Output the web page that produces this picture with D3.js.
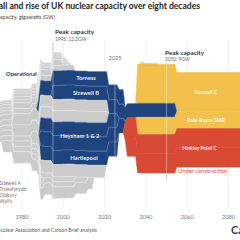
<!DOCTYPE html>
<html>
<head>
<meta charset="utf-8">
<script src="https://d3js.org/d3.v7.min.js"></script>
<style>
body{margin:0;background:#fff}
svg{display:block;font-family:Lato,"Open Sans",sans-serif}
</style>
</head>
<body>
<svg width="240" height="240"></svg>
<script>
// stations, listed top to bottom of the stream
const stationNames = ["Calder Hall","Chapelcross","Berkeley","Bradwell","Hunterston A","Hinkley Point A","Dungeness A",
  "Torness","Sizewell C","Sizewell B","Hinkley Point B","Hunterston B","Rolls-Royce SMR","Heysham 1","Heysham 2",
  "Hartlepool","Hinkley Point C 1","Hinkley Point C 2","Dungeness B","Sizewell A","Trawsfynydd","Oldbury","Wylfa"];
const stationStatus = ["retired","retired","retired","retired","retired","retired","retired",
  "operational","planned","operational","retired","retired","planned","operational","operational",
  "operational","construction","construction","retired","retired","retired","retired","retired"];
const startYears = [1956,1959,1962,1962,1964,1965,1965, 1988,2036,1995,1976,1976,2036,1989,1989, 1989,2030,2031,1985,1966,1965,1967,1971];
const endYears   = [2003,2004,1989,2002,1990,2000,2006, 2030,2100,2055,2022,2022,2100,2027,2030, 2027,2100,2100,2021,2006,1991,2012,2015];
const capacityGW = [0.19,0.19,0.28,0.24,0.30,0.47,0.45, 1.25,3.3,1.2,0.95,0.95,1.45,1.15,1.25, 1.2,1.63,1.63,1.05,0.42,0.47,0.43,0.98];

const tickYears = [1980, 2000, 2020, 2040, 2060, 2080];
const bandLabels = [["Torness",[7],2011],["Sizewell B",[9],2011],["Heysham 1 & 2",[13,14],2008],["Hartlepool",[15],2010],
  ["Sizewell C",[8],2069],["Rolls-Royce SMR",[12],2069],["Hinkley Point C",[16,17],2066]];
const retiredList = ["Sizewell A","Trawsfynydd","Oldbury","Wylfa"];

const colors = {retired:"#cbcbcb", operational:"#1e437d", planned:"#f3c04c", construction:"#d84a33"};
const strokes = {retired:"#ececec", operational:"#5d80b6", planned:"#f3c04c", construction:"#d84a33"};

const svg = d3.select("svg");
const x = d3.scaleLinear().domain([1980, 2080]).range([22, 228.5]);

const years = d3.range(1950, 2096);
const table = years.map(yr => {
  const row = {year: yr};
  stationNames.forEach((n, i) => { row[i] = (yr >= startYears[i] && yr < endYears[i]) ? capacityGW[i] : 0; });
  return row;
});
const series = d3.stack().keys(stationNames.map((d, i) => i)).offset(d3.stackOffsetWiggle)(table);
const at = (s, yr) => s.find(d => d.data.year === yr);
const lowAt = yr => d3.min(series, s => at(s, yr)[0]);
const highAt = yr => d3.max(series, s => at(s, yr)[1]);
// place the 1995 peak around y = 125
const mid = (lowAt(1995) + highAt(1995)) / 2;
const y = d3.scaleLinear().domain([mid - 6, mid + 6]).range([125.5 - 6*11.8, 125.5 + 6*11.8]);

// grid
svg.append("g").selectAll("line").data(tickYears).join("line")
  .attr("x1", d => x(d)).attr("x2", d => x(d)).attr("y1", 40).attr("y2", 208)
  .attr("stroke", "#e6e6e6").attr("stroke-width", 0.6);
svg.append("g").selectAll("text").data(tickYears).join("text")
  .attr("x", d => x(d)).attr("y", 218.5).attr("text-anchor", "middle")
  .attr("font-size", 5.6).attr("fill", "#777").text(d => d);

// peak markers behind the shape
[[1995, 42, 200], [2050, 63, 180]].forEach(([yr, a, b]) => {
  svg.append("line").attr("x1", x(yr)).attr("x2", x(yr)).attr("y1", a).attr("y2", b)
    .attr("stroke", "#9a9a9a").attr("stroke-width", 0.5);
});

const area = d3.area().x(d => x(d.data.year)).y0(d => y(d[0])).y1(d => y(d[1]));
svg.append("g").selectAll("path").data(series).join("path")
  .attr("d", s => area.defined(d => d.data.year >= startYears[s.key] - 1 && d.data.year <= endYears[s.key])(s))
  .attr("fill", s => colors[stationStatus[s.key]])
  .attr("stroke", s => strokes[stationStatus[s.key]])
  .attr("stroke-width", 0.5).attr("stroke-linejoin", "round");

// white marker lines over the shape
[1995, 2025, 2050].forEach(yr => {
  svg.append("line").attr("x1", x(yr)).attr("x2", x(yr)).attr("y1", y(lowAt(yr))).attr("y2", y(highAt(yr)))
    .attr("stroke", "#fff").attr("stroke-opacity", 0.8).attr("stroke-width", 0.5);
});

// band labels
svg.append("g").selectAll("text").data(bandLabels).join("text")
  .attr("x", d => x(d[2])).attr("text-anchor", "middle")
  .attr("y", d => (y(at(series[d[1][0]], d[2])[0]) + y(at(series[d[1][d[1].length - 1]], d[2])[1])) / 2 + 1.8)
  .attr("font-size", d => d[2] > 2040 ? 5 : 5.8).attr("font-weight", "bold")
  .attr("fill", "#fff").attr("fill-opacity", 0.92).text(d => d[0]);

// titles and notes
svg.append("text").attr("x", -5.5).attr("y", 8.5).attr("textLength", 205.5).attr("lengthAdjust", "spacingAndGlyphs")
  .attr("font-size", 9).attr("font-weight", "bold").attr("fill", "#222")
  .text("Fall and rise of UK nuclear capacity over eight decades");
svg.append("text").attr("x", -4).attr("y", 18.5).attr("textLength", 59).attr("lengthAdjust", "spacingAndGlyphs")
  .attr("font-size", 6.5).attr("fill", "#444").text("Capacity, gigawatts (GW)");

svg.append("text").attr("x", 55).attr("y", 34).attr("font-size", 6.4).attr("font-weight", "bold").attr("fill", "#333").text("Peak capacity");
svg.append("text").attr("x", 55).attr("y", 40.5).attr("font-size", 4.8).attr("fill", "#666").text("1995: 12.2GW");
svg.append("text").attr("x", 165).attr("y", 55).attr("font-size", 6.4).attr("font-weight", "bold").attr("fill", "#333").text("Peak capacity");
svg.append("text").attr("x", 165).attr("y", 61.3).attr("font-size", 4.8).attr("fill", "#666").text("2050: 9GW");
svg.append("text").attr("x", x(2025)).attr("y", 60).attr("text-anchor", "middle").attr("font-size", 5.6).attr("fill", "#777").text("2025");

svg.append("text").attr("x", 6).attr("y", 76).attr("font-size", 5.8).attr("font-weight", "bold").attr("fill", "#1e437d").text("Operational");
svg.append("text").attr("x", 140).attr("y", 66).attr("font-size", 4.8).attr("font-weight", "bold").attr("fill", "#e8b439").text("Planned");
svg.append("text").attr("x", 178).attr("y", 172.5).attr("font-size", 5.8).attr("fill", "#d84a33").text("Under construction");

svg.append("g").selectAll("text").data(retiredList).join("text")
  .attr("x", -0.5).attr("y", (d, i) => 184.5 + i * 6).attr("font-size", 4.8).attr("fill", "#777").text(d => d);

svg.append("text").attr("x", 97).attr("y", 232).attr("text-anchor", "end").attr("font-size", 5)
  .attr("fill", "#555").text("Source: World Nuclear Association and Carbon Brief analysis");
svg.append("text").attr("x", 231).attr("y", 234).attr("font-size", 11).attr("font-weight", "bold")
  .attr("fill", "#1e437d").text("CarbonBrief");
</script>
</body>
</html>
